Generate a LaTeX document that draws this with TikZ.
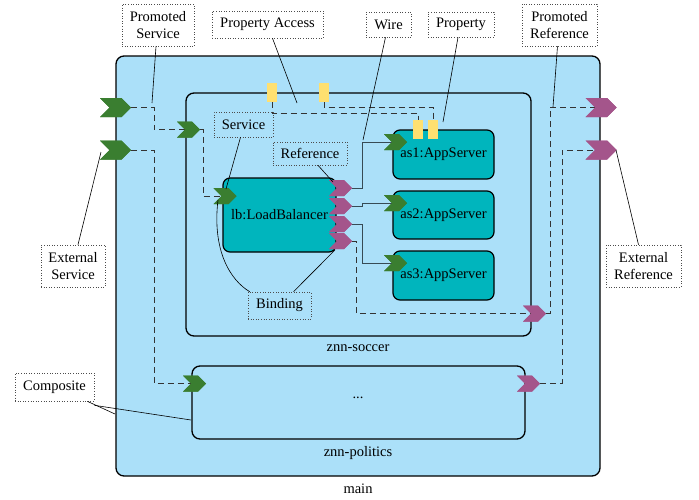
\documentclass[tikz,border=0pt]{standalone}
\usepackage{fontspec}
\setmainfont{Liberation Serif}
\usetikzlibrary{shapes.symbols}
\definecolor{bgblue}{RGB}{171,224,249}
\definecolor{teal}{RGB}{0,181,189}
\definecolor{svcgreen}{RGB}{58,126,48}
\definecolor{refpink}{RGB}{164,85,139}
\definecolor{propyellow}{RGB}{255,224,112}
\definecolor{wirecol}{RGB}{55,75,85}
\begin{document}
\begin{tikzpicture}[x=1pt,y=-1pt,
  every node/.style={font=\fontsize{14.5}{17}\selectfont},
  composite/.style={draw=black,line width=1.3pt,fill=bgblue,rounded corners=8pt,inner sep=0pt},
  compbox/.style={draw=black,line width=1.2pt,fill=teal,rounded corners=7pt,inner sep=0pt},
  chev/.style={signal,signal to=east,signal from=west,signal pointer angle=90,inner sep=0pt,draw=none},
  bigchev/.style={chev,minimum width=31pt,minimum height=19pt},
  smallchev/.style={chev,minimum width=23pt,minimum height=16pt},
  svc/.style={fill=svcgreen},
  rf/.style={fill=refpink},
  propbox/.style={fill=propyellow,draw=none,minimum width=10pt,minimum height=19pt,inner sep=0pt},
  promo/.style={draw=black!80,line width=0.8pt,dash pattern=on 6pt off 4pt},
  wire/.style={draw=wirecol,line width=1pt},
  lbl/.style={draw=black!70,dotted,line width=0.6pt,inner sep=0pt,align=center},
  ptr/.style={draw=black,line width=0.6pt},
  plain/.style={inner sep=0pt}
]
\useasboundingbox (0,0) rectangle (699,499);
% composites
\node[composite,minimum width=484pt,minimum height=420pt] (main) at (358,266) {};
\node[composite,minimum width=345pt,minimum height=243pt] (soccer) at (358.5,214.5) {};
\node[composite,minimum width=333pt,minimum height=73pt] (politics) at (358.5,402.5) {};
\node[plain] (mainlbl) at (358,489) {main};
\node[plain] (soccerlbl) at (358,348) {znn-soccer};
\node[plain] (politicslbl) at (358,453) {znn-politics};
\node[plain] (dots) at (358,398) {...};
% components
\node[compbox,minimum width=113pt,minimum height=74pt] (lb) at (279.5,215) {lb:LoadBalancer};
\node[compbox,minimum width=101pt,minimum height=49pt] (as1) at (443.5,154.5) {as1:AppServer};
\node[compbox,minimum width=101pt,minimum height=48pt] (as2) at (443.5,215) {as2:AppServer};
\node[compbox,minimum width=101pt,minimum height=49pt] (as3) at (443.5,275.5) {as3:AppServer};
% properties
\node[propbox] (p1) at (272,92) {};
\node[propbox] (p2) at (324,92) {};
\node[propbox] (q1) at (418,129.5) {};
\node[propbox] (q2) at (433,129.5) {};
% chevrons
\node[bigchev,svc] (ms1) at (115.5,107.5) {};
\node[bigchev,svc] (ms2) at (115.5,150) {};
\node[bigchev,rf] (mr1) at (601,107.5) {};
\node[bigchev,rf] (mr2) at (601,150) {};
\node[smallchev,svc] (ss) at (188.5,129.5) {};
\node[smallchev,svc] (lbs) at (225,196) {};
\node[smallchev,rf] (lbr1) at (340.5,188) {};
\node[smallchev,rf] (lbr2) at (340.5,206) {};
\node[smallchev,rf] (lbr3) at (340.5,224) {};
\node[smallchev,rf] (lbr4) at (340.5,241) {};
\node[smallchev,svc] (a1s) at (395.5,142) {};
\node[smallchev,svc] (a2s) at (395.5,203) {};
\node[smallchev,svc] (a3s) at (395.5,263) {};
\node[smallchev,rf] (sr) at (534.5,313.5) {};
\node[smallchev,svc] (ps) at (194.5,383.5) {};
\node[smallchev,rf] (pr) at (528.5,383.5) {};
% promotions (dashed)
\begin{scope}[on background layer/.style={}]
\draw[promo] (ms1.east) -- (154,107.5) |- (ss.west);
\draw[promo] (ms2.east) -- (154,150) |- (ps.west);
\draw[promo] (ss.east) -- (203,129.5) |- (lbs.west);
\draw[promo] (lbr4.east) -- (356,241) |- (sr.west);
\draw[promo] (sr.east) -- (550,313.5) |- (mr1.west);
\draw[promo] (pr.east) -- (562,383.5) |- (mr2.west);
\draw[promo] (p1.south) -- (272,113) -| (q1.north);
\draw[promo] (p2.south) -- (324,107) -| (q2.north);
\end{scope}
% wires
\draw[wire] (lbr1.east) -- (362,188) |- (a1s.west);
\draw[wire] (lbr2.east) -- (362,206) |- (a2s.west);
\draw[wire] (lbr3.east) -- (362,224) |- (a3s.west);
% redraw chevrons above lines
\foreach \n/\c/\s in {ms1/svc/bigchev,ms2/svc/bigchev,mr1/rf/bigchev,mr2/rf/bigchev,ss/svc/smallchev,lbs/svc/smallchev,lbr1/rf/smallchev,lbr2/rf/smallchev,lbr3/rf/smallchev,lbr4/rf/smallchev,a1s/svc/smallchev,a2s/svc/smallchev,a3s/svc/smallchev,sr/rf/smallchev,ps/svc/smallchev,pr/rf/smallchev}
  {\node[\s,\c] at (\n) {};}
\node[propbox] at (p1) {};
\node[propbox] at (p2) {};
\node[propbox] at (q1) {};
\node[propbox] at (q2) {};
% labels
\node[lbl,minimum width=72pt,minimum height=42pt] (lPS) at (158,25) {Promoted\\Service};
\node[lbl,minimum width=111pt,minimum height=27pt] (lPA) at (267.5,24.5) {Property Access};
\node[lbl,minimum width=45pt,minimum height=25pt] (lW) at (388.5,24.5) {Wire};
\node[lbl,minimum width=66pt,minimum height=25pt] (lP) at (461,24.5) {Property};
\node[lbl,minimum width=75pt,minimum height=42pt] (lPR) at (559.5,25) {Promoted\\Reference};
\node[lbl,minimum width=59pt,minimum height=25pt] (lS) at (243.5,124.5) {Service};
\node[lbl,minimum width=74pt,minimum height=23pt] (lR) at (310,153.5) {Reference};
\node[lbl,minimum width=63pt,minimum height=27pt] (lB) at (279.5,305.5) {Binding};
\node[lbl,minimum width=64pt,minimum height=42pt] (lES) at (73,266) {External\\Service};
\node[lbl,minimum width=75pt,minimum height=42pt] (lER) at (643.5,266) {External\\Reference};
\node[lbl,minimum width=79pt,minimum height=28pt] (lC) at (54.5,387) {Composite};
% pointer targets
\coordinate (tPS) at (152,103);
\coordinate (tPA) at (297,103);
\coordinate (tW) at (363,140);
\coordinate (tP) at (443,122);
\coordinate (tPR) at (553,107);
\coordinate (tS) at (226,189);
\coordinate (tR) at (333,182);
\coordinate (tB1) at (218,200);
\coordinate (tB2) at (335,250);
\coordinate (tES) at (101,152);
\coordinate (tER) at (616,150);
\coordinate (tC1) at (115,414);
\coordinate (tC2) at (191,420);
% pointers
\draw[ptr] ([xshift=-2pt]lPS.south) -- (tPS);
\draw[ptr] ([xshift=5pt]lPA.south) -- (tPA);
\draw[ptr] ([xshift=-3pt]lW.south) -- (tW);
\draw[ptr] ([xshift=-3pt]lP.south) -- (tP);
\draw[ptr] ([xshift=-2pt]lPR.south) -- (tPR);
\draw[ptr] ([xshift=-3pt]lS.south) -- (tS);
\draw[ptr] ([xshift=8pt]lR.south) -- (tR);
\draw[ptr] ([xshift=2pt]lB.north west) .. controls (230,280) and (212,250) .. (tB1);
\draw[ptr] ([xshift=14pt]lB.north) -- (tB2);
\draw[ptr] ([xshift=5pt]lES.north) -- (tES);
\draw[ptr] ([xshift=-5pt]lER.north) -- (tER);
\draw[ptr] ([xshift=-7pt]lC.south east) -- (tC1);
\draw[ptr] ([yshift=-4pt]lC.south east) -- (tC2);
\end{tikzpicture}
\end{document}
